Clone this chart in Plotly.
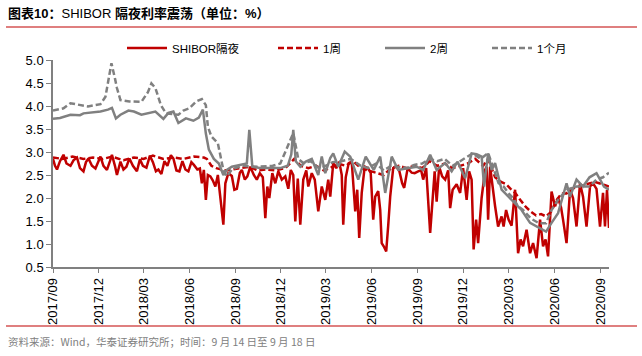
import plotly.graph_objects as go

# ---------------- data ----------------
on_dates = ["2017-09-01","2017-09-05","2017-09-09","2017-09-15","2017-09-22","2017-09-28","2017-10-06","2017-10-12",
            "2017-10-19","2017-10-25","2017-11-01","2017-11-06","2017-11-11","2017-11-18","2017-11-25","2017-12-01",
            "2017-12-05","2017-12-11","2017-12-18","2017-12-24","2017-12-28","2018-01-03","2018-01-07","2018-01-14",
            "2018-01-20","2018-01-26","2018-02-01","2018-02-08","2018-02-16","2018-02-22","2018-02-28","2018-03-07",
            "2018-03-14","2018-03-20","2018-03-26","2018-03-31","2018-04-06","2018-04-12","2018-04-18","2018-04-25",
            "2018-04-30","2018-05-06","2018-05-12","2018-05-18","2018-05-24","2018-05-30","2018-06-05","2018-06-10",
            "2018-06-17","2018-06-22","2018-06-26","2018-06-30","2018-07-04","2018-07-08","2018-07-13","2018-07-18",
            "2018-07-23","2018-07-28","2018-08-02","2018-08-08","2018-08-12","2018-08-18","2018-08-25","2018-08-30",
            "2018-09-04","2018-09-10","2018-09-14","2018-09-20","2018-09-25","2018-10-01","2018-10-08","2018-10-14",
            "2018-10-20","2018-10-26","2018-10-31","2018-11-04","2018-11-08","2018-11-14","2018-11-20","2018-11-26",
            "2018-12-03","2018-12-10","2018-12-16","2018-12-21","2018-12-26","2018-12-30","2019-01-04","2019-01-09",
            "2019-01-15","2019-01-21","2019-01-25","2019-02-01","2019-02-07","2019-02-14","2019-02-21","2019-02-28",
            "2019-03-06","2019-03-10","2019-03-16","2019-03-22","2019-03-28","2019-04-02","2019-04-05","2019-04-10",
            "2019-04-16","2019-04-22","2019-04-29","2019-05-03","2019-05-07","2019-05-12","2019-05-18","2019-05-24",
            "2019-05-30","2019-06-04","2019-06-08","2019-06-14","2019-06-18","2019-06-21","2019-06-25","2019-06-30",
            "2019-07-04","2019-07-08","2019-07-14","2019-07-20","2019-07-26","2019-08-01","2019-08-05","2019-08-12",
            "2019-08-20","2019-08-26","2019-09-02","2019-09-08","2019-09-12","2019-09-18","2019-09-26","2019-10-01",
            "2019-10-05","2019-10-09","2019-10-14","2019-10-20","2019-10-26","2019-11-01","2019-11-05","2019-11-10",
            "2019-11-18","2019-11-25","2019-12-01","2019-12-08","2019-12-13","2019-12-18","2019-12-22","2019-12-27",
            "2019-12-31","2020-01-07","2020-01-14","2020-01-17","2020-01-20","2020-01-24","2020-01-31","2020-02-03",
            "2020-02-09","2020-02-16","2020-02-20","2020-02-25","2020-03-01","2020-03-07","2020-03-14","2020-03-20",
            "2020-03-25","2020-03-30","2020-04-06","2020-04-13","2020-04-19","2020-04-26","2020-05-03","2020-05-09",
            "2020-05-14","2020-05-19","2020-05-26","2020-06-02","2020-06-08","2020-06-14","2020-06-18","2020-06-25",
            "2020-07-02","2020-07-08","2020-07-15","2020-07-22","2020-07-28","2020-08-04","2020-08-11","2020-08-17",
            "2020-08-24","2020-08-31","2020-09-06","2020-09-10","2020-09-14","2020-09-18"]
on_vals = [2.85,2.70,2.62,2.80,2.94,2.75,2.70,2.82,
           2.88,2.65,2.58,2.78,2.86,2.70,2.64,2.82,
           2.90,2.70,2.61,2.80,2.94,2.70,2.50,2.79,
           2.62,2.68,2.86,2.70,2.58,2.84,2.70,2.66,
           2.92,2.78,2.58,2.62,2.52,2.80,2.70,2.93,
           2.86,2.60,2.58,2.80,2.62,2.58,2.78,2.72,
           2.62,2.64,2.32,2.61,1.96,2.50,2.47,2.38,
           2.25,2.50,2.03,1.42,2.32,2.54,2.48,2.18,
           2.20,2.55,2.61,2.40,2.47,2.68,2.50,2.40,
           2.54,2.45,1.56,2.25,2.00,2.54,2.32,2.58,
           2.40,2.47,2.20,2.61,2.50,1.49,2.42,1.42,
           2.40,2.60,2.25,2.54,2.40,1.71,2.25,1.96,
           2.40,2.03,2.76,2.65,2.79,2.50,1.42,2.45,
           2.76,2.79,1.71,2.18,1.13,2.11,2.68,2.65,
           2.55,1.53,2.03,2.15,1.74,1.02,0.95,0.84,
           1.40,2.03,2.65,2.68,2.60,2.32,2.22,2.65,
           2.55,2.54,2.58,2.60,2.40,2.65,1.24,2.10,
           2.58,1.92,2.68,2.47,2.40,2.60,1.78,2.18,
           2.30,2.11,2.65,1.96,2.58,2.40,0.88,1.53,
           1.02,2.00,2.61,2.68,1.53,2.68,2.00,1.82,
           1.38,1.60,1.38,1.74,1.53,1.40,2.18,0.80,
           1.10,0.95,1.31,0.80,1.02,0.69,1.53,0.95,
           1.10,0.73,2.14,1.82,2.00,1.80,1.53,1.02,
           2.18,2.00,1.38,2.32,2.03,1.38,2.25,2.32,
           2.20,1.38,2.11,1.38,2.18,1.35]

w1_dates = ["2017-09-01","2017-09-20","2017-10-10","2017-11-01","2017-11-20","2017-12-10","2017-12-28","2018-01-20",
            "2018-02-10","2018-03-01","2018-03-20","2018-04-10","2018-05-01","2018-05-20","2018-06-10","2018-06-30",
            "2018-07-06","2018-07-15","2018-07-25","2018-08-10","2018-08-25","2018-09-10","2018-09-30","2018-10-15",
            "2018-11-01","2018-11-20","2018-12-10","2018-12-28","2019-01-10","2019-01-25","2019-02-10","2019-02-25",
            "2019-03-10","2019-03-25","2019-04-10","2019-04-25","2019-05-10","2019-05-25","2019-06-10","2019-06-25",
            "2019-07-10","2019-07-25","2019-08-10","2019-08-25","2019-09-10","2019-09-25","2019-10-10","2019-10-25",
            "2019-11-10","2019-11-25","2019-12-10","2019-12-25","2020-01-10","2020-01-20","2020-02-03","2020-02-15",
            "2020-02-25","2020-03-05","2020-03-15","2020-03-25","2020-04-05","2020-04-15","2020-04-25","2020-05-05",
            "2020-05-15","2020-05-25","2020-06-05","2020-06-15","2020-06-25","2020-07-05","2020-07-20","2020-08-05",
            "2020-08-20","2020-09-05","2020-09-18"]
w1_vals = [2.88,2.85,2.90,2.85,2.88,2.85,2.90,2.82,
           2.88,2.85,2.92,2.85,2.88,2.85,2.90,2.88,
           2.85,2.70,2.65,2.60,2.62,2.65,2.68,2.60,
           2.62,2.60,2.65,2.85,2.70,2.65,2.70,2.60,
           2.65,2.75,2.70,2.80,2.65,2.60,2.55,2.50,
           2.65,2.70,2.65,2.70,2.65,2.80,2.70,2.75,
           2.65,2.70,2.75,2.85,2.70,2.85,2.45,2.35,
           2.30,2.20,2.10,1.95,1.80,1.70,1.62,1.65,
           1.60,1.70,1.95,2.10,2.10,2.20,2.25,2.30,
           2.35,2.30,2.25]

w2_dates = ["2017-09-01","2017-09-15","2017-10-06","2017-10-25","2017-11-01","2017-11-20","2017-12-05","2017-12-20",
            "2017-12-28","2018-01-05","2018-01-14","2018-01-30","2018-02-10","2018-02-25","2018-03-10","2018-03-25",
            "2018-04-10","2018-04-20","2018-04-30","2018-05-10","2018-05-25","2018-06-09","2018-06-20","2018-06-28",
            "2018-07-04","2018-07-10","2018-07-20","2018-07-30","2018-08-08","2018-08-15","2018-08-25","2018-09-15",
            "2018-09-24","2018-09-29","2018-10-05","2018-10-20","2018-11-10","2018-11-30","2018-12-15","2018-12-22",
            "2018-12-26","2018-12-31","2019-01-09","2019-01-20","2019-02-01","2019-02-14","2019-02-21","2019-02-28",
            "2019-03-10","2019-03-16","2019-03-26","2019-04-08","2019-04-19","2019-05-05","2019-05-20","2019-06-05",
            "2019-06-18","2019-06-28","2019-07-11","2019-07-24","2019-08-15","2019-08-30","2019-09-12","2019-09-26",
            "2019-10-09","2019-10-26","2019-11-08","2019-11-20","2019-12-05","2019-12-18","2019-12-28","2020-01-07",
            "2020-01-12","2020-01-20","2020-01-27","2020-02-03","2020-02-16","2020-03-01","2020-03-14","2020-03-27",
            "2020-04-13","2020-04-26","2020-05-15","2020-05-26","2020-06-08","2020-06-25","2020-07-02","2020-07-15",
            "2020-07-28","2020-08-10","2020-08-24","2020-09-08","2020-09-18"]
w2_vals = [3.72,3.74,3.81,3.80,3.84,3.86,3.88,3.92,
           3.96,3.73,3.81,3.90,3.88,3.81,3.85,3.88,
           3.72,3.85,3.88,3.63,3.73,3.68,3.75,3.92,
           3.40,3.05,2.85,2.75,2.50,2.61,2.68,2.72,
           2.75,3.48,2.68,2.65,2.65,2.65,2.70,2.95,
           3.48,2.80,2.68,2.79,2.85,2.50,2.90,2.54,
           2.87,2.97,2.68,3.01,2.90,2.40,2.90,2.61,
           2.90,2.11,2.90,2.61,2.65,2.68,2.61,2.94,
           2.61,2.76,2.58,2.79,2.43,2.97,2.95,2.90,
           2.25,2.97,2.61,2.76,2.18,2.03,1.89,1.74,
           1.46,1.38,1.27,1.46,1.67,2.32,2.03,2.40,
           2.25,2.45,2.54,2.25,2.18]

m1_dates = ["2017-09-01","2017-09-22","2017-10-06","2017-10-25","2017-11-10","2017-11-25","2017-12-05","2017-12-15",
            "2017-12-22","2017-12-27","2018-01-03","2018-01-07","2018-01-14","2018-02-01","2018-02-25","2018-03-10",
            "2018-03-17","2018-03-25","2018-04-05","2018-04-15","2018-05-10","2018-05-20","2018-06-01","2018-06-15",
            "2018-06-26","2018-07-04","2018-07-08","2018-07-15","2018-07-28","2018-08-02","2018-08-08","2018-08-15",
            "2018-08-25","2018-09-15","2018-10-15","2018-11-15","2018-11-30","2018-12-10","2018-12-20","2018-12-26",
            "2019-01-05","2019-01-15","2019-01-30","2019-02-15","2019-03-01","2019-03-15","2019-04-01","2019-04-20",
            "2019-05-10","2019-05-25","2019-06-10","2019-06-25","2019-07-10","2019-07-25","2019-08-10","2019-08-25",
            "2019-09-10","2019-09-25","2019-10-10","2019-10-25","2019-11-10","2019-11-25","2019-12-10","2019-12-20",
            "2020-01-05","2020-01-20","2020-02-03","2020-02-10","2020-02-20","2020-03-01","2020-03-10","2020-03-20",
            "2020-03-30","2020-04-15","2020-05-01","2020-05-15","2020-05-26","2020-06-08","2020-06-25","2020-07-15",
            "2020-08-10","2020-08-24","2020-09-06","2020-09-18"]
m1_vals = [3.90,3.95,4.06,4.02,3.99,4.02,4.04,4.20,
           4.60,4.93,4.60,4.39,4.13,4.10,4.09,4.30,
           4.49,4.39,4.02,3.84,3.81,3.90,3.95,4.10,
           4.15,4.02,3.55,3.34,3.19,2.90,2.61,2.47,
           2.62,2.70,2.68,2.70,2.75,3.00,3.25,3.41,
           2.85,2.76,2.80,2.65,2.70,2.78,2.80,2.85,
           2.70,2.65,2.75,2.60,2.70,2.68,2.65,2.72,
           2.75,2.85,2.80,2.85,2.70,2.80,2.90,2.97,
           2.85,2.98,2.54,2.32,2.25,2.10,2.00,1.82,
           1.74,1.55,1.45,1.45,1.74,1.96,2.18,2.25,
           2.25,2.40,2.45,2.55]

tick_labels = ["2017/09","2017/12","2018/03","2018/06","2018/09","2018/12","2019/03",
               "2019/06","2019/09","2019/12","2020/03","2020/06","2020/09"]
series_names = ["SHIBOR隔夜", "1周", "2周", "1个月"]

# ---------------- styles ----------------
RED = "#C00000"
GRAY = "#808080"
LAT = "Liberation Sans, Arial, Noto Sans CJK SC"
CJK = "Noto Sans CJK SC, Liberation Sans"

fig = go.Figure()
styles = [
    (on_dates, on_vals, RED, "solid", "legend"),
    (w1_dates, w1_vals, RED, "6px,3px", "legend2"),
    (w2_dates, w2_vals, GRAY, "solid", "legend3"),
    (m1_dates, m1_vals, GRAY, "6px,3px", "legend4"),
]
for (d, v, c, dash, lg), name in zip(styles, series_names):
    fig.add_trace(go.Scatter(x=d, y=v, mode="lines", name=name, legend=lg,
                             line=dict(color=c, width=2.5, dash=dash)))

tick_vals = [t.replace("/", "-") + "-01" for t in tick_labels]

# plot area in px: left 53, right 609, top 60, bottom 267
L, R, T, B = 53, 609, 60, 267
W, H = 642, 356
def px_x(px):
    return (px - L) / (R - L)
def px_y(py):
    return (B - py) / (B - T)

legend_common = dict(orientation="h", yanchor="middle", xanchor="left",
                     font=dict(family=LAT, size=11.5, color="#000000"),
                     bgcolor="rgba(0,0,0,0)", itemwidth=40, tracegroupgap=0)
lg_x = [122, 273, 380, 487]
fig.update_layout(
    width=W, height=H,
    margin=dict(l=L, r=W - R, t=T, b=H - B, autoexpand=False),
    paper_bgcolor="white", plot_bgcolor="white",
    showlegend=True,
    legend=dict(x=px_x(lg_x[0]), y=px_y(48), **legend_common),
    legend2=dict(x=px_x(lg_x[1]), y=px_y(48), **legend_common),
    legend3=dict(x=px_x(lg_x[2]), y=px_y(48), **legend_common),
    legend4=dict(x=px_x(lg_x[3]), y=px_y(48), **legend_common),
    xaxis=dict(type="date", range=["2017-09-01", "2020-09-18"],
               tickvals=tick_vals, ticktext=tick_labels, tickangle=-90,
               ticks="outside", ticklen=4, tickcolor=GRAY, tickwidth=1,
               showline=True, linecolor=GRAY, linewidth=1.5, showgrid=False, zeroline=False,
               automargin=False,
               tickfont=dict(family=LAT, size=13, color="#000000")),
    yaxis=dict(range=[0.5, 5.0], dtick=0.5, tick0=0.5, tickformat=".1f",
               ticks="outside", ticklen=5, tickcolor=GRAY, tickwidth=1,
               showline=True, linecolor=GRAY, linewidth=1.5, showgrid=False, zeroline=False,
               automargin=False,
               tickfont=dict(family=LAT, size=13, color="#000000")),
)

# title, rules and footer
fig.add_annotation(xref="paper", yref="paper", x=px_x(6), y=px_y(14), xanchor="left", yanchor="middle",
                   showarrow=False, text="<b>图表10：</b>SHIBOR <b>隔夜利率震荡（单位：%）</b>",
                   font=dict(family=LAT, size=13, color="#000000"))
fig.add_shape(type="line", xref="paper", yref="paper", x0=px_x(6), x1=px_x(637), y0=px_y(27), y1=px_y(27),
              line=dict(color=RED, width=1.2))
fig.add_shape(type="line", xref="paper", yref="paper", x0=px_x(6), x1=px_x(637), y0=px_y(326), y1=px_y(326),
              line=dict(color=RED, width=1.2))
fig.add_annotation(xref="paper", yref="paper", x=px_x(6), y=px_y(341), xanchor="left", yanchor="middle",
                   showarrow=False, text="资料来源：Wind，华泰证券研究所；时间：9 月 14 日至 9 月 18 日",
                   font=dict(family=CJK, size=10.5, color="#808080"))

fig.write_html("out.html", config={"displayModeBar": False},
               post_script="document.body.style.margin='0';document.body.style.overflow='hidden';")
